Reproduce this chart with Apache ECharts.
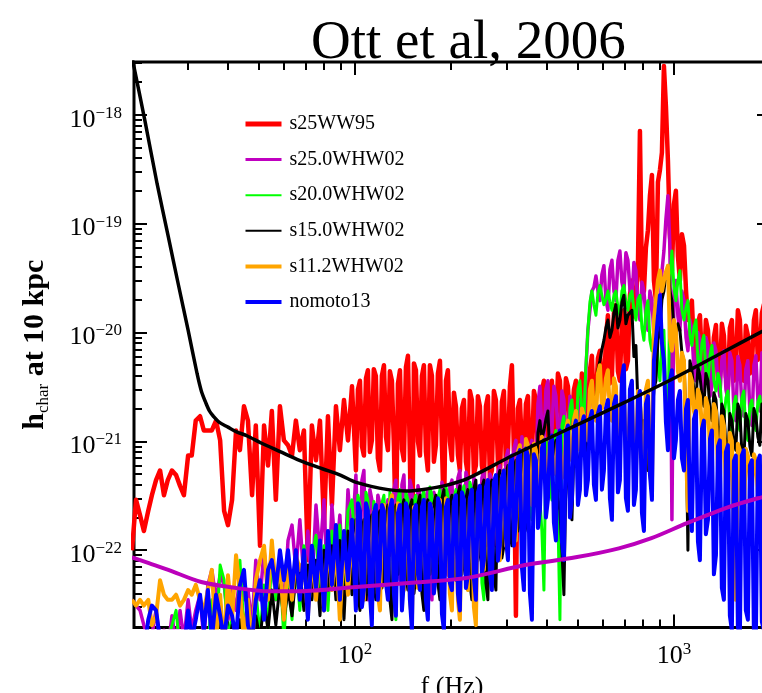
<!DOCTYPE html>
<html>
<head>
<meta charset="utf-8">
<script src="https://cdn.jsdelivr.net/npm/echarts@6/dist/echarts.min.js"></script>
<style>
  html, body { margin: 0; padding: 0; background: #fff; }
  #chart { width: 762px; height: 693px; }
</style>
</head>
<body>
<div id="chart"></div>
<script>
// Main frequency grid (Hz) shared by the model spectra
const freq = [
  20.0, 20.6, 21.2, 21.8, 22.5, 23.1, 23.8, 24.5, 25.2, 25.9,
  26.7, 27.5, 28.3, 29.1, 30.0, 30.8, 31.7, 32.7, 33.6, 34.6,
  35.6, 36.7, 37.8, 38.9, 40.0, 41.2, 42.4, 43.6, 44.9, 46.2,
  47.6, 48.9, 50.4, 51.9, 53.4, 54.9, 56.5, 58.2, 59.9, 61.7,
  63.5, 65.3, 67.2, 69.2, 71.2, 73.3, 75.5, 77.7, 80.0, 82.3,
  84.7, 87.2, 89.7, 92.4, 95.1, 97.9, 100.7, 103.7, 106.7, 109.8,
  113.0, 116.3, 119.8, 123.3, 126.9, 130.6, 134.4, 138.4, 142.4, 146.6,
  150.9, 155.3, 159.9, 164.5, 169.3, 174.3, 179.4, 184.7, 190.1, 195.6,
  201.4, 207.3, 213.3, 219.6, 226.0, 232.6, 239.4, 246.4, 253.7, 261.1,
  268.7, 276.6, 284.7, 293.1, 301.7, 310.5, 319.6, 328.9, 338.6, 348.5,
  358.7, 369.2, 380.0, 391.2, 402.6, 414.4, 426.6, 439.1, 451.9, 465.2,
  478.8, 492.8, 507.2, 522.1, 537.4, 553.1, 569.4, 586.0, 603.2, 620.9,
  639.1, 657.7, 677.0, 696.8, 717.3, 738.3, 759.9, 782.2, 805.1, 828.7,
  853.0, 877.9, 903.7, 930.1, 957.4, 985.4, 1014, 1044, 1075, 1106,
  1138, 1172, 1206, 1241, 1278, 1315, 1354, 1393, 1434, 1476,
  1519, 1563, 1609, 1656, 1705, 1755, 1806, 1859, 1913, 1969
];
// Extra samples above 100 Hz, where the spectra are dense
const freqMid = [
  102.2, 105.2, 108.3, 111.4, 114.6, 118.0, 121.5, 125.1, 128.7, 132.5,
  136.4, 140.4, 144.5, 148.7, 153.1, 157.6, 162.2, 166.9, 171.8, 176.8,
  182.0, 187.4, 192.9, 198.4, 204.3, 210.3, 216.4, 222.8, 229.3, 236.0,
  242.9, 250.0, 257.4, 264.9, 272.6, 280.6, 288.8, 297.4, 306.1, 315.0,
  324.2, 333.7, 343.5, 353.6, 363.9, 374.6, 385.5, 396.9, 408.5, 420.4,
  432.8, 445.5, 458.5, 472.0, 485.8, 500.0, 514.6, 529.7, 545.2, 561.1,
  577.7, 594.5, 612.0, 629.9, 648.4, 667.3, 686.8, 706.9, 727.7, 749.0,
  770.9, 793.6, 816.8, 840.7, 865.4, 890.7, 916.8, 943.6, 971.3, 999.7,
  1029, 1059, 1091, 1122, 1155, 1189, 1224, 1259, 1297, 1334,
  1374, 1413, 1455, 1497, 1541, 1586, 1632, 1680, 1730, 1781,
  1832, 1886, 1941
];

// Characteristic strain h_char at 10 kpc, per model
const s25WW95 = [
  1.0e-22, 2.9e-22, 2.1e-22, 1.5e-22, 2.3e-22, 3.2e-22, 4.4e-22, 5.4e-22, 3.2e-22, 4.4e-22,
  5.4e-22, 4.9e-22, 3.9e-22, 3.2e-22, 7.4e-22, 7.4e-22, 1.55e-21, 1.7e-21, 1.26e-21, 1.26e-21,
  1.26e-21, 1.55e-21, 1.02e-21, 2.3e-22, 1.7e-22, 2.9e-22, 1.26e-21, 8.3e-22, 2.1e-21, 1.55e-21,
  3.2e-22, 1.4e-21, 1.1e-22, 1.4e-21, 6.0e-22, 1.9e-21, 2.9e-22, 2.1e-21, 1.02e-21, 9.2e-22,
  7.4e-22, 1.55e-21, 8.3e-22, 1.26e-21, 8.1e-23, 1.4e-21, 6.7e-22, 1.55e-21, 1.7e-22, 1.7e-21,
  2.6e-22, 2.1e-21, 8.3e-22, 2.4e-21, 1.02e-21, 3.2e-21, 5.4e-22, 3.6e-21, 7.4e-22, 4.5e-21,
  1.02e-21, 4.0e-21, 5.4e-22, 5.0e-21, 8.3e-22, 3.6e-21, 1.23e-22, 4.5e-21, 6.7e-22, 6.1e-21,
  4.8e-23, 4.5e-21, 7.4e-22, 5.0e-21, 5.4e-22, 4.0e-21, 9.2e-22, 5.5e-21, 1.9e-22, 4.5e-21,
  6.7e-22, 2.1e-21, 5.4e-22, 2.4e-21, 4.9e-22, 2.4e-21, 6.0e-22, 2.1e-21, 4.4e-22, 2.6e-21,
  5.4e-22, 2.4e-21, 4.4e-22, 2.9e-21, 8.3e-22, 5.0e-21, 2.5e-23, 2.4e-21, 6.7e-22, 2.6e-21,
  7.4e-22, 2.4e-21, 1.02e-21, 3.6e-21, 1.13e-21, 3.6e-21, 1.26e-21, 3.6e-21, 1.4e-21, 3.2e-21,
  1.55e-21, 3.6e-21, 1.7e-21, 3.6e-21, 1.9e-21, 6.1e-21, 2.4e-21, 6.8e-21, 2.6e-21, 1.44e-20,
  4.0e-21, 1.8e-20, 3.6e-21, 1.6e-20, 5.5e-21, 3.0e-20, 1.96e-20, 7.1e-19, 2.4e-20, 8.7e-20,
  2.8e-19, 1.96e-20, 3.1e-19, 2.8e-18, 3.8e-19, 3.7e-20, 2.0e-19, 3.0e-20, 6.3e-20, 1.3e-20,
  1.96e-20, 5.5e-21, 1.44e-20, 4.5e-21, 1.05e-20, 3.6e-21, 1.17e-20, 4.0e-21, 9.4e-21, 3.2e-21,
  1.3e-20, 4.5e-21, 1.3e-20, 3.6e-21, 9.4e-21, 5.0e-21, 1.6e-20, 6.8e-21, 1.8e-20, 8.5e-21
];
const s25WW95Mid = [
  3.0e-21, 9.0e-22, 3.8e-21, 8.0e-22, 4.6e-21, 7.0e-22, 4.0e-21, 1.1e-21, 4.4e-21, 9.0e-22,
  3.4e-21, 8.5e-22, 4.8e-21, 7.0e-22, 5.2e-21, 1.0e-21, 4.0e-21, 8.0e-22, 5.0e-21, 6.5e-22,
  4.2e-21, 9.0e-22, 3.6e-21, 1.0e-21, 2.8e-21, 7.5e-22, 2.0e-21, 6.5e-22, 2.9e-21, 5.0e-22,
  2.6e-21, 6.0e-22, 2.1e-21, 4.6e-22, 2.9e-21, 6.5e-22, 2.3e-21, 6.0e-22, 3.2e-21, 8.0e-22,
  2.0e-21, 9.0e-22, 2.2e-21, 6.0e-22, 2.9e-21, 8.0e-22, 2.9e-21, 1.4e-21, 3.0e-21, 1.0e-21,
  4.2e-21, 1.15e-21, 3.8e-21, 1.3e-21, 3.0e-21, 1.5e-21, 4.2e-21, 1.6e-21, 4.5e-21, 2.0e-21,
  5.8e-21, 3.0e-21, 9.0e-21, 3.4e-21, 1.5e-20, 4.4e-21, 1.3e-20, 4.6e-21, 2.2e-20, 1.4e-20,
  4.0e-20, 3.0e-20, 6.0e-20, 1.8e-19, 3.0e-20, 2.4e-19, 4.5e-19, 1.2e-18, 8.0e-20, 1.5e-19,
  5.0e-20, 8.0e-20, 2.4e-20, 1.6e-20, 7.0e-21, 1.2e-20, 5.5e-21, 1.3e-20, 4.4e-21, 9.0e-21,
  3.3e-21, 1.2e-20, 3.9e-21, 1.1e-20, 3.6e-21, 1.6e-20, 4.8e-21, 1.15e-20, 4.2e-21, 1.3e-20,
  5.6e-21, 1.5e-20, 7.0e-21
];

const s250WHW02 = [
  3.5e-23, 3.1e-23, 2.8e-23, 2.05e-23, 1.5e-23, 1.65e-23, 2.8e-23, 1.5e-23, 1.84e-23, 1.2e-23,
  2.5e-23, 1.35e-23, 2.8e-23, 1.5e-23, 3.5e-23, 1.84e-23, 2.8e-23, 3.9e-23, 1.5e-23, 4.8e-23,
  6.6e-23, 3.5e-23, 5.9e-23, 4.8e-23, 2.3e-23, 4.3e-23, 2.8e-23, 5.9e-23, 3.5e-23, 4.3e-23,
  2.05e-23, 8.1e-23, 3.5e-23, 1.0e-22, 4.3e-23, 9.0e-23, 3.5e-23, 8.1e-23, 2.8e-23, 1.23e-22,
  1.7e-22, 6.6e-23, 1.9e-22, 5.3e-23, 1.5e-22, 4.3e-23, 2.6e-22, 9.0e-23, 2.9e-22, 3.5e-23,
  2.6e-22, 8.1e-23, 2.1e-22, 3.9e-23, 3.6e-22, 1.23e-22, 4.9e-22, 8.1e-23, 5.4e-22, 3.5e-23,
  2.9e-22, 1.1e-22, 2.6e-22, 4.8e-23, 2.9e-22, 1.23e-22, 4.4e-22, 5.3e-23, 4.9e-22, 1.5e-22,
  3.6e-22, 6.6e-23, 3.2e-22, 1.0e-22, 3.6e-22, 3.5e-23, 2.9e-22, 1.1e-22, 3.6e-22, 5.9e-23,
  4.4e-22, 1.5e-22, 5.4e-22, 8.1e-23, 4.4e-22, 1.9e-22, 3.9e-22, 9.0e-23, 5.4e-22, 1.5e-22,
  4.4e-22, 1.1e-22, 6.0e-22, 1.9e-22, 8.3e-22, 2.9e-22, 1.02e-21, 1.9e-22, 9.2e-22, 3.6e-22,
  1.02e-21, 3.9e-22, 3.2e-21, 1.02e-21, 3.6e-21, 1.26e-21, 2.6e-21, 1.02e-21, 2.4e-21, 8.3e-22,
  2.1e-21, 9.2e-22, 2.4e-21, 1.26e-21, 1.05e-20, 2.4e-20, 3.3e-20, 1.96e-20, 4.1e-20, 1.6e-20,
  4.6e-20, 1.96e-20, 5.6e-20, 2.4e-20, 4.6e-20, 1.96e-20, 3.7e-20, 1.3e-20, 2.4e-20, 1.05e-20,
  1.96e-20, 7.6e-21, 1.6e-20, 5.6e-20, 1.8e-19, 1.9e-22, 3.0e-20, 1.05e-20, 1.96e-20, 6.8e-21,
  1.05e-20, 3.6e-21, 8.5e-21, 2.9e-21, 7.6e-21, 3.2e-21, 6.8e-21, 2.6e-21, 6.8e-21, 2.4e-21,
  5.5e-21, 1.55e-21, 5.0e-21, 1.7e-21, 5.5e-21, 1.4e-21, 6.1e-21, 1.9e-21, 5.5e-21, 2.1e-21
];
const s250WHW02Mid = [
  1.1e-22, 4.4e-22, 6.0e-23, 3.6e-22, 8.0e-23, 3.2e-22, 7.0e-23, 2.4e-22, 9.0e-23, 3.6e-22,
  9.0e-23, 4.0e-22, 1.1e-22, 4.4e-22, 5.0e-23, 3.9e-22, 1.3e-22, 3.0e-22, 6.0e-23, 3.4e-22,
  8.0e-23, 4.2e-22, 9.0e-23, 3.8e-22, 1.0e-22, 4.6e-22, 1.2e-22, 5.2e-22, 1.4e-22, 4.6e-22,
  1.3e-22, 4.6e-22, 1.1e-22, 5.0e-22, 1.5e-22, 5.2e-22, 2.4e-22, 7.0e-22, 2.2e-22, 8.6e-22,
  2.6e-22, 1.1e-21, 2.8e-22, 8.8e-22, 5.0e-22, 2.2e-21, 1.3e-21, 3.0e-21, 1.05e-21, 3.2e-21,
  1.3e-21, 2.9e-21, 1.05e-21, 2.6e-21, 1.2e-21, 2.0e-21, 1.6e-21, 4.5e-21, 1.6e-20, 2.6e-20,
  2.4e-20, 3.4e-20, 2.0e-20, 3.8e-20, 2.4e-20, 4.6e-20, 2.9e-20, 5.4e-20, 2.5e-20, 4.4e-20,
  1.7e-20, 2.9e-20, 1.4e-20, 2.4e-20, 9.5e-21, 1.3e-20, 3.6e-20, 1.1e-19, 6.0e-20, 2.4e-20,
  1.4e-20, 2.4e-20, 9.0e-21, 1.3e-20, 4.6e-21, 1.0e-20, 3.8e-21, 9.0e-21, 2.6e-21, 8.0e-21,
  3.4e-21, 5.6e-21, 3.0e-21, 6.5e-21, 2.0e-21, 6.0e-21, 2.2e-21, 4.6e-21, 1.8e-21, 5.0e-21,
  2.4e-21, 6.5e-21, 2.6e-21
];

const s200WHW02 = [
  1.5e-23, 1.2e-23, 9.8e-24, 1.5e-23, 1.2e-23, 9.8e-24, 1.35e-23, 1.2e-23, 9.8e-24, 1.5e-23,
  2.05e-23, 2.8e-23, 1.2e-23, 9.8e-24, 1.5e-23, 1.2e-23, 1.65e-23, 1.1e-23, 1.84e-23, 1.35e-23,
  3.5e-23, 1.5e-23, 7.3e-23, 5.3e-23, 1.5e-23, 2.5e-23, 1.2e-23, 8.1e-23, 1.84e-23, 3.5e-23,
  1.5e-23, 4.3e-23, 1.65e-23, 4.8e-23, 1.84e-23, 9.0e-23, 3.5e-23, 7.3e-23, 1.5e-23, 6.6e-23,
  2.3e-23, 8.1e-23, 2.8e-23, 1.1e-22, 3.5e-23, 9.0e-23, 1.37e-22, 4.3e-23, 1.1e-22, 2.8e-23,
  1.5e-22, 5.3e-23, 1.7e-22, 3.5e-23, 2.3e-22, 2.9e-22, 8.1e-23, 2.6e-22, 4.3e-23, 2.9e-22,
  1.1e-22, 2.3e-22, 3.5e-23, 3.2e-22, 8.1e-23, 2.9e-22, 2.3e-23, 3.6e-22, 1.1e-22, 2.9e-22,
  5.3e-23, 3.2e-22, 1.0e-22, 3.6e-22, 3.5e-23, 3.2e-22, 9.0e-23, 3.6e-22, 4.8e-23, 3.2e-22,
  1.23e-22, 3.6e-22, 1.0e-22, 3.9e-22, 4.3e-23, 3.6e-22, 1.1e-22, 3.6e-22, 3.5e-23, 3.2e-22,
  8.1e-23, 3.9e-22, 1.5e-22, 4.4e-22, 1.1e-22, 5.4e-22, 1.9e-22, 6.0e-22, 8.1e-23, 6.7e-22,
  1.9e-22, 8.3e-22, 2.9e-22, 4.3e-23, 1.02e-21, 2.9e-22, 1.26e-21, 2.3e-23, 1.7e-21, 5.4e-22,
  2.4e-21, 8.3e-22, 3.6e-21, 1.55e-21, 1.05e-20, 2.4e-20, 1.44e-20, 2.7e-20, 1.8e-20, 2.4e-20,
  1.6e-20, 2.4e-20, 1.44e-20, 2.7e-20, 1.6e-20, 2.4e-20, 1.3e-20, 2.2e-20, 8.5e-21, 1.96e-20,
  6.8e-21, 1.3e-20, 3.6e-21, 1.05e-20, 1.02e-21, 5.6e-20, 1.96e-20, 3.7e-20, 1.3e-20, 1.96e-20,
  7.6e-21, 1.3e-20, 4.5e-21, 9.4e-21, 3.6e-21, 7.6e-21, 2.9e-21, 3.6e-21, 1.55e-21, 2.9e-21,
  1.13e-21, 2.6e-21, 1.26e-21, 2.9e-21, 1.02e-21, 2.4e-21, 1.26e-21, 2.6e-21, 1.4e-21, 2.4e-21
];
const s200WHW02Mid = [
  3.2e-22, 7.0e-23, 3.4e-22, 9.0e-23, 2.8e-22, 5.0e-23, 2.7e-22, 1.1e-22, 3.4e-22, 4.0e-23,
  3.0e-22, 8.0e-23, 3.4e-22, 7.0e-23, 2.8e-22, 1.3e-22, 3.0e-22, 5.0e-23, 3.8e-22, 7.0e-23,
  3.0e-22, 6.5e-23, 3.8e-22, 9.5e-23, 3.0e-22, 1.3e-22, 3.4e-22, 6.0e-23, 4.2e-22, 9.0e-23,
  3.0e-22, 5.0e-23, 3.8e-22, 1.1e-22, 3.4e-22, 1.2e-22, 3.8e-22, 1.4e-22, 4.6e-22, 2.4e-22,
  5.0e-22, 1.1e-22, 5.6e-22, 2.4e-22, 7.0e-22, 3.6e-22, 1.5e-22, 8.6e-22, 3.6e-22, 1.05e-21,
  2.0e-22, 1.4e-21, 6.8e-22, 2.0e-21, 1.0e-21, 3.0e-21, 1.9e-21, 5.0e-21, 1.9e-20, 1.8e-20,
  2.3e-20, 2.2e-20, 2.0e-20, 1.9e-20, 2.2e-20, 1.7e-20, 2.4e-20, 1.9e-20, 2.2e-20, 1.6e-20,
  2.0e-20, 1.1e-20, 1.6e-20, 8.5e-21, 1.1e-20, 5.0e-21, 8.5e-21, 2.5e-21, 3.2e-20, 2.6e-20,
  3.0e-20, 1.6e-20, 1.7e-20, 9.5e-21, 1.1e-20, 5.5e-21, 8.0e-21, 4.4e-21, 6.2e-21, 3.6e-21,
  4.2e-21, 2.0e-21, 2.5e-21, 1.4e-21, 2.2e-21, 1.5e-21, 2.5e-21, 1.2e-21, 2.1e-21, 1.5e-21,
  2.3e-21, 1.7e-21, 2.1e-21
];

const s150WHW02 = [
  1.2e-23, 9.8e-24, 1.5e-23, 9.8e-24, 1.2e-23, 1.5e-23, 9.8e-24, 1.2e-23, 1.35e-23, 9.8e-24,
  1.2e-23, 1.5e-23, 9.8e-24, 1.2e-23, 1.5e-23, 1.1e-23, 1.35e-23, 9.8e-24, 1.5e-23, 1.2e-23,
  1.84e-23, 1.35e-23, 2.5e-23, 1.5e-23, 1.2e-23, 2.05e-23, 1.1e-23, 2.3e-23, 1.5e-23, 2.8e-23,
  1.35e-23, 2.5e-23, 1.5e-23, 3.5e-23, 1.84e-23, 4.3e-23, 2.05e-23, 4.8e-23, 2.3e-23, 4.3e-23,
  2.5e-23, 5.9e-23, 6.6e-23, 2.8e-23, 7.3e-23, 3.5e-23, 8.1e-23, 2.5e-23, 1.0e-22, 4.3e-23,
  1.1e-22, 3.5e-23, 1.23e-22, 2.3e-23, 1.5e-22, 3.9e-23, 1.9e-22, 2.8e-23, 1.9e-22, 5.3e-23,
  2.1e-22, 3.5e-23, 2.3e-22, 6.6e-23, 2.6e-22, 2.3e-23, 2.6e-22, 8.1e-23, 2.9e-22, 4.3e-23,
  2.9e-22, 5.9e-23, 3.2e-22, 2.8e-23, 2.9e-22, 8.1e-23, 3.2e-22, 3.5e-23, 3.6e-22, 1.1e-22,
  3.2e-22, 5.3e-23, 3.9e-22, 8.1e-23, 3.6e-22, 3.5e-23, 4.4e-22, 1.0e-22, 4.4e-22, 3.5e-23,
  4.4e-22, 4.3e-23, 5.4e-22, 1.1e-22, 6.0e-22, 1.1e-22, 6.7e-22, 1.9e-22, 8.3e-22, 1.5e-22,
  9.2e-22, 2.9e-22, 1.55e-21, 1.26e-21, 1.9e-21, 5.4e-22, 1.02e-21, 2.3e-22, 3.9e-23, 5.4e-22,
  1.9e-22, 1.02e-21, 6.7e-22, 1.55e-21, 9.2e-22, 2.9e-21, 2.4e-21, 5.5e-21, 8.5e-21, 1.3e-20,
  1.05e-20, 1.8e-20, 1.3e-20, 2.2e-20, 1.44e-20, 1.6e-20, 7.6e-21, 2.6e-21, 1.55e-21, 5.4e-22,
  1.55e-21, 3.6e-21, 1.05e-20, 2.4e-20, 4.1e-20, 1.96e-20, 9.4e-21, 1.05e-20, 5.5e-21, 1.0e-22,
  4.5e-21, 2.4e-21, 4.0e-21, 2.1e-21, 3.6e-21, 1.55e-21, 2.4e-21, 1.02e-21, 1.9e-21, 7.4e-22,
  1.55e-21, 8.3e-22, 1.9e-21, 6.7e-22, 1.55e-21, 7.4e-22, 1.7e-21, 9.2e-22, 1.9e-21, 1.02e-21
];
const s150WHW02Mid = [
  4.0e-23, 1.5e-22, 3.5e-23, 1.8e-22, 5.0e-23, 2.0e-22, 4.5e-23, 2.2e-22, 3.5e-23, 2.2e-22,
  6.0e-23, 2.4e-22, 6.0e-23, 2.5e-22, 4.0e-23, 2.7e-22, 4.0e-23, 2.5e-22, 6.0e-23, 2.7e-22,
  5.0e-23, 3.0e-22, 8.0e-23, 2.7e-22, 7.0e-23, 3.3e-22, 6.0e-23, 3.0e-22, 5.0e-23, 3.7e-22,
  8.0e-23, 3.8e-22, 5.0e-23, 3.8e-22, 6.0e-23, 4.6e-22, 8.5e-23, 5.0e-22, 1.4e-22, 5.6e-22,
  1.5e-22, 7.0e-22, 1.9e-22, 7.6e-22, 3.6e-22, 1.2e-21, 1.05e-21, 1.6e-21, 7.0e-22, 8.5e-22,
  3.0e-22, 1.0e-22, 4.5e-22, 2.5e-22, 8.5e-22, 5.6e-22, 1.3e-21, 8.0e-22, 2.4e-21, 2.0e-21,
  4.5e-21, 7.0e-21, 1.1e-20, 9.0e-21, 1.5e-20, 1.1e-20, 1.9e-20, 1.2e-20, 1.4e-20, 6.0e-21,
  2.2e-21, 1.3e-21, 7.0e-22, 1.3e-21, 3.0e-21, 8.5e-21, 2.0e-20, 3.4e-20, 2.4e-20, 1.1e-20,
  1.2e-20, 6.5e-21, 1.5e-21, 5.5e-21, 2.9e-21, 4.8e-21, 2.6e-21, 4.2e-21, 1.9e-21, 2.8e-21,
  1.2e-21, 2.2e-21, 9.0e-22, 1.8e-21, 1.0e-21, 2.2e-21, 8.0e-22, 1.8e-21, 9.0e-22, 2.0e-21,
  1.1e-21, 2.2e-21, 1.2e-21
];

const s112WHW02 = [
  3.5e-23, 3.1e-23, 3.5e-23, 3.1e-23, 3.5e-23, 2.05e-23, 2.5e-23, 5.3e-23, 3.9e-23, 3.5e-23,
  3.5e-23, 3.9e-23, 3.1e-23, 3.5e-23, 4.3e-23, 3.9e-23, 4.8e-23, 3.5e-23, 2.8e-23, 4.3e-23,
  6.6e-23, 1.5e-23, 3.9e-23, 1.2e-23, 5.9e-23, 2.3e-23, 9.0e-23, 4.3e-23, 1.5e-23, 3.5e-23,
  1.2e-23, 5.3e-23, 8.1e-23, 1.1e-22, 3.5e-23, 1.23e-22, 4.3e-23, 7.3e-23, 2.3e-23, 8.1e-23,
  3.5e-23, 9.0e-23, 6.6e-23, 8.1e-23, 2.5e-23, 9.0e-23, 3.5e-23, 1.1e-22, 2.8e-23, 1.23e-22,
  4.3e-23, 1.1e-22, 2.3e-23, 1.23e-22, 3.9e-23, 1.5e-22, 1.0e-22, 1.9e-22, 3.5e-23, 2.1e-22,
  8.1e-23, 1.9e-22, 2.8e-23, 2.6e-22, 1.23e-22, 3.2e-22, 8.1e-23, 2.3e-22, 4.3e-23, 2.3e-22,
  2.3e-23, 2.1e-22, 5.9e-23, 2.6e-22, 3.5e-23, 2.3e-22, 8.1e-23, 2.9e-22, 5.3e-23, 2.6e-22,
  2.8e-23, 2.3e-22, 2.3e-23, 2.9e-22, 4.3e-23, 2.6e-22, 2.05e-23, 3.2e-22, 6.6e-23, 3.6e-22,
  1.1e-22, 4.4e-22, 8.1e-23, 5.4e-22, 1.5e-22, 6.0e-22, 1.23e-22, 9.2e-22, 2.9e-22, 9.2e-22,
  2.6e-22, 8.3e-22, 3.6e-22, 9.2e-22, 5.4e-22, 9.2e-22, 6.0e-22, 8.3e-22, 5.4e-22, 1.55e-21,
  6.7e-22, 1.9e-21, 8.3e-22, 1.7e-21, 1.02e-21, 3.6e-21, 1.55e-21, 5.0e-21, 2.4e-21, 4.5e-21,
  1.55e-21, 3.2e-21, 1.26e-21, 2.9e-21, 6.7e-22, 2.6e-21, 5.4e-22, 2.4e-21, 4.4e-22, 3.6e-21,
  3.9e-22, 1.96e-20, 3.7e-20, 3.0e-20, 4.1e-20, 6.8e-21, 1.05e-20, 3.6e-21, 5.5e-21, 2.3e-22,
  3.6e-21, 1.55e-21, 2.6e-21, 1.02e-21, 2.1e-21, 6.7e-22, 1.9e-21, 4.4e-22, 1.4e-21, 2.9e-22,
  1.02e-21, 3.5e-23, 8.3e-22, 1.9e-22, 7.4e-22, 3.6e-22, 6.7e-22, 2.9e-22, 5.4e-22, 3.2e-22
];
const s112WHW02Mid = [
  2.4e-22, 5.0e-23, 2.5e-22, 6.0e-23, 2.3e-22, 4.0e-23, 2.2e-22, 9.0e-23, 2.7e-22, 6.0e-23,
  2.7e-22, 6.0e-23, 2.0e-22, 3.5e-23, 2.5e-22, 4.5e-23, 2.2e-22, 5.0e-23, 2.7e-22, 6.0e-23,
  2.5e-22, 7.0e-23, 3.0e-22, 4.0e-23, 2.6e-22, 3.5e-23, 2.5e-22, 6.0e-23, 3.0e-22, 3.0e-23,
  2.8e-22, 9.0e-23, 3.0e-22, 8.0e-23, 3.8e-22, 1.1e-22, 4.6e-22, 1.1e-22, 7.0e-22, 1.8e-22,
  8.0e-22, 2.2e-22, 1.05e-21, 3.4e-22, 9.5e-22, 4.4e-22, 1.1e-21, 4.6e-22, 1.05e-21, 5.0e-22,
  1.0e-21, 4.6e-22, 1.3e-21, 7.6e-22, 1.6e-21, 9.5e-22, 2.0e-21, 1.2e-21, 3.0e-21, 1.9e-21,
  4.2e-21, 2.0e-21, 3.8e-21, 1.8e-21, 3.8e-21, 1.0e-21, 3.4e-21, 8.0e-22, 2.2e-21, 6.5e-22,
  2.9e-21, 5.5e-22, 3.0e-21, 5.0e-22, 1.3e-20, 3.0e-20, 2.4e-20, 3.6e-20, 9.0e-21, 1.3e-20,
  4.4e-21, 6.5e-21, 8.0e-22, 4.2e-21, 1.9e-21, 3.0e-21, 1.3e-21, 2.5e-21, 8.5e-22, 2.2e-21,
  5.5e-22, 1.7e-21, 3.6e-22, 1.2e-21, 1.2e-22, 9.5e-22, 2.6e-22, 8.5e-22, 4.4e-22, 7.6e-22,
  3.4e-22, 6.0e-22, 3.8e-22
];

const nomoto13 = [
  1.2e-23, 9.8e-24, 1.5e-23, 1.1e-23, 2.3e-23, 3.1e-23, 2.8e-23, 1.5e-23, 9.8e-24, 1.2e-23,
  1.5e-23, 9.8e-24, 1.35e-23, 1.2e-23, 2.8e-23, 1.5e-23, 2.3e-23, 3.9e-23, 1.84e-23, 4.3e-23,
  1.5e-23, 3.9e-23, 2.5e-23, 1.5e-23, 3.1e-23, 2.5e-23, 1.5e-23, 4.8e-23, 6.6e-23, 2.05e-23,
  1.5e-23, 3.5e-23, 5.3e-23, 2.3e-23, 6.6e-23, 8.1e-23, 4.3e-23, 1.0e-22, 5.3e-23, 1.0e-22,
  4.3e-23, 1.0e-22, 3.5e-23, 1.0e-22, 2.3e-23, 1.1e-22, 4.3e-23, 1.23e-22, 2.8e-23, 1.5e-22,
  4.8e-23, 1.7e-22, 3.5e-23, 1.5e-22, 5.3e-23, 1.9e-22, 2.8e-23, 2.3e-22, 4.3e-23, 2.3e-22,
  2.05e-23, 2.6e-22, 6.6e-23, 2.3e-22, 3.5e-23, 2.9e-22, 2.5e-23, 2.6e-22, 5.3e-23, 2.3e-22,
  1.84e-23, 2.6e-22, 4.3e-23, 2.9e-22, 2.3e-23, 2.3e-22, 5.9e-23, 2.6e-22, 1.84e-23, 2.9e-22,
  4.3e-23, 3.2e-22, 2.8e-23, 2.9e-22, 5.9e-23, 3.6e-22, 3.5e-23, 3.9e-22, 8.1e-23, 4.4e-22,
  4.3e-23, 4.9e-22, 1.1e-22, 5.4e-22, 8.1e-23, 7.4e-22, 1.9e-22, 8.3e-22, 4.3e-23, 7.4e-22,
  2.3e-23, 6.7e-22, 2.3e-22, 1.02e-21, 2.9e-22, 1.13e-21, 1.23e-22, 1.26e-21, 8.1e-23, 1.4e-21,
  2.9e-22, 1.55e-21, 3.6e-22, 1.7e-21, 4.4e-22, 1.9e-21, 2.9e-22, 2.1e-21, 5.4e-22, 2.4e-21,
  1.9e-22, 2.6e-21, 4.4e-22, 5.0e-21, 2.3e-22, 3.6e-21, 3.6e-22, 2.9e-21, 1.5e-22, 2.6e-21,
  2.9e-22, 8.5e-21, 2.2e-20, 5.5e-21, 8.3e-22, 4.5e-21, 1.02e-21, 2.9e-21, 5.4e-22, 2.4e-21,
  1.5e-22, 1.9e-21, 8.1e-23, 1.55e-21, 1.9e-22, 1.26e-21, 9.0e-23, 1.02e-21, 3.5e-23, 9.2e-22,
  1.84e-23, 7.4e-22, 1.5e-23, 8.3e-22, 2.3e-23, 6.7e-22, 1.5e-23, 7.4e-22, 1.84e-23, 6.0e-22
];
const nomoto13Mid = [
  2.7e-22, 3.0e-23, 2.7e-22, 4.0e-23, 2.2e-22, 3.5e-23, 2.6e-22, 5.0e-23, 2.4e-22, 4.0e-23,
  2.2e-22, 2.8e-23, 2.7e-22, 3.5e-23, 2.3e-22, 6.0e-23, 2.5e-22, 3.5e-23, 2.7e-22, 4.0e-23,
  3.0e-22, 2.6e-23, 2.5e-22, 5.0e-23, 2.8e-22, 4.0e-23, 3.4e-22, 4.5e-23, 3.0e-22, 5.5e-23,
  3.4e-22, 6.0e-23, 3.8e-22, 6.0e-23, 4.2e-22, 8.0e-23, 4.6e-22, 1.3e-22, 6.0e-22, 1.1e-22,
  7.0e-22, 7.0e-23, 8.6e-22, 4.0e-23, 7.6e-22, 1.6e-22, 8.6e-22, 2.0e-22, 9.6e-22, 1.8e-22,
  1.05e-21, 1.2e-22, 1.2e-21, 2.0e-22, 1.3e-21, 2.6e-22, 1.45e-21, 3.2e-22, 1.6e-21, 4.0e-22,
  1.8e-21, 3.6e-22, 2.0e-21, 3.0e-22, 2.2e-21, 3.4e-22, 3.8e-21, 3.0e-22, 3.0e-21, 2.6e-22,
  2.4e-21, 2.2e-22, 2.2e-21, 5.0e-22, 5.5e-21, 1.4e-20, 8.0e-21, 1.5e-21, 3.6e-21, 7.0e-22,
  2.4e-21, 7.0e-22, 2.0e-21, 2.4e-22, 1.6e-21, 1.2e-22, 1.3e-21, 1.4e-22, 1.05e-21, 6.0e-23,
  9.0e-22, 4.5e-23, 8.0e-22, 2.5e-23, 6.6e-22, 2.0e-23, 7.4e-22, 2.8e-23, 6.0e-22, 1.6e-23,
  6.6e-22, 2.2e-23, 5.5e-22
];

// Detector sensitivity curves
const ligoFreq = [20, 22, 24, 26, 28, 30, 32, 33, 34, 35, 36, 37.5, 40, 42.4, 46, 51, 58, 67, 79, 90,
  101, 127, 145, 162, 190, 227, 303, 435, 672, 1000, 1400, 2000];
const ligoNoise = [3.4e-18, 8.6e-19, 2.3e-19, 7.6e-20, 2.7e-20, 1.05e-20, 4.2e-21, 2.9e-21, 2.3e-21, 1.9e-21,
  1.7e-21, 1.5e-21, 1.35e-21, 1.23e-21, 1.12e-21, 9.6e-22, 8.1e-22, 6.7e-22, 5.6e-22, 4.9e-22,
  4.2e-22, 3.6e-22, 3.5e-22, 3.6e-22, 3.9e-22, 4.6e-22, 7.1e-22, 1.18e-21, 2.15e-21, 3.8e-21, 6.4e-21, 1.12e-20];
const advFreq = [20, 22.6, 26, 33, 42.4, 53.5, 67, 101, 162, 227, 341, 492, 672, 850, 1098, 1490, 1835, 2000];
const advNoise = [8.6e-23, 7.6e-23, 6.6e-23, 5.1e-23, 4.5e-23, 4.2e-23, 4.2e-23, 4.6e-23, 5.1e-23, 5.6e-23,
  7.3e-23, 8.6e-23, 1.04e-22, 1.29e-22, 1.77e-22, 2.5e-22, 3.0e-22, 3.2e-22];

// Axis ticks
const xMajorTicks = [100, 1000];
const xMinorTicks = [30, 40, 50, 60, 70, 80, 90, 200, 300, 400, 500, 600, 700, 800, 900, 2000];
const yMajorTicks = [1e-22, 1e-21, 1e-20, 1e-19, 1e-18];
const yMinorTicks = [
  2e-23, 3e-23, 4e-23, 5e-23, 6e-23, 7e-23, 8e-23, 9e-23,
  2e-22, 3e-22, 4e-22, 5e-22, 6e-22, 7e-22, 8e-22, 9e-22,
  2e-21, 3e-21, 4e-21, 5e-21, 6e-21, 7e-21, 8e-21, 9e-21,
  2e-20, 3e-20, 4e-20, 5e-20, 6e-20, 7e-20, 8e-20, 9e-20,
  2e-19, 3e-19, 4e-19, 5e-19, 6e-19, 7e-19, 8e-19, 9e-19,
  2e-18, 3e-18
];

const X_MIN = 20.3, X_MAX = 2000;
const Y_MIN = 1.95e-23, Y_MAX = 3.05e-18;
const SERIF = '"Liberation Serif", "DejaVu Serif", serif';

function pairs(xs, ys) { return xs.map((x, i) => [x, ys[i]]); }
// Combine the main grid with the extra samples, ordered by frequency
function spectrum(values, extra) {
  return pairs(freq, values).concat(pairs(freqMid, extra)).sort((a, b) => a[0] - b[0]);
}

function powerLabel(v) {
  const lg = Math.log10(v);
  const e = Math.round(lg);
  if (Math.abs(lg - e) > 1e-6) return '';
  const txt = e < 0 ? '\u2212' + (-e) : String(e);
  return '{b|10}{e|' + txt + '}';
}

const labelRich = {
  b: { fontFamily: SERIF, fontSize: 26, color: '#000', lineHeight: 30 },
  e: { fontFamily: SERIF, fontSize: 17, color: '#000', verticalAlign: 'top', lineHeight: 18 }
};

function xAxisDef(pos, ticks, len, withLabel) {
  return {
    type: 'log', gridIndex: 0, position: pos, min: X_MIN, max: X_MAX,
    axisLine: { show: false, onZero: false },
    splitLine: { show: false },
    axisTick: { show: true, inside: true, length: len, customValues: ticks,
      lineStyle: { color: '#000', width: 2 } },
    axisLabel: withLabel ? {
      show: true, customValues: ticks, margin: 14, formatter: powerLabel, rich: labelRich
    } : { show: false }
  };
}
function yAxisDef(pos, ticks, len, withLabel) {
  return {
    type: 'log', gridIndex: 0, position: pos, min: Y_MIN, max: Y_MAX,
    axisLine: { show: false, onZero: false },
    splitLine: { show: false },
    axisTick: { show: true, inside: true, length: len, customValues: ticks,
      lineStyle: { color: '#000', width: 2 } },
    axisLabel: withLabel ? {
      show: true, customValues: ticks, margin: 12, formatter: powerLabel, rich: labelRich,
      padding: [10, 0, 0, 0]
    } : { show: false }
  };
}

const xAxes = [
  xAxisDef('bottom', xMajorTicks, 13, true),
  xAxisDef('bottom', xMinorTicks, 8, false),
  xAxisDef('top', xMajorTicks, 13, false),
  xAxisDef('top', xMinorTicks, 8, false)
];
xAxes[0].name = 'f (Hz)';
xAxes[0].nameLocation = 'middle';
xAxes[0].nameGap = 41;
xAxes[0].nameTextStyle = { fontFamily: SERIF, fontSize: 26, color: '#000' };

const yAxes = [
  yAxisDef('left', yMajorTicks, 13, true),
  yAxisDef('left', yMinorTicks, 8, false),
  yAxisDef('right', yMajorTicks, 13, false),
  yAxisDef('right', yMinorTicks, 8, false)
];
yAxes[0].name = '{h|h}{s|char}{a| at 10 kpc}';
yAxes[0].nameLocation = 'middle';
yAxes[0].nameGap = 82;
yAxes[0].nameRotate = 90;
yAxes[0].nameTextStyle = {
  rich: {
    h: { fontFamily: SERIF, fontSize: 30, fontWeight: 'bold', color: '#000', lineHeight: 34 },
    s: { fontFamily: SERIF, fontSize: 17, color: '#000', verticalAlign: 'bottom', lineHeight: 18 },
    a: { fontFamily: SERIF, fontSize: 30, fontWeight: 'bold', color: '#000', lineHeight: 34 }
  }
};

function model(name, values, extra, color, width) {
  return {
    name: name, type: 'line', data: spectrum(values, extra),
    xAxisIndex: 0, yAxisIndex: 0,
    symbol: 'none', showSymbol: false, silent: true, clip: true, z: 2,
    lineStyle: { color: color, width: width, join: 'round' },
    itemStyle: { color: color }
  };
}

const chart = echarts.init(document.getElementById('chart'), null, { renderer: 'canvas' });
chart.setOption({
  animation: false,
  backgroundColor: '#fff',
  title: {
    text: 'Ott et al, 2006', left: 306, top: 11,
    textStyle: { fontFamily: SERIF, fontSize: 55, fontWeight: 'normal', color: '#000' }
  },
  grid: {
    left: 134, top: 62, width: 636, height: 565.5,
    containLabel: false, outerBoundsMode: 'none',
    show: true, borderColor: '#000', borderWidth: 3, backgroundColor: 'transparent'
  },
  legend: {
    orient: 'vertical', left: 243, top: 114, padding: 0,
    itemWidth: 36, itemHeight: 14, itemGap: 15.6,
    itemStyle: { opacity: 0 },
    textStyle: { fontFamily: SERIF, fontSize: 20, color: '#000', lineHeight: 20, padding: [0, 0, 0, 3] },
    data: [
      { name: 's25WW95', lineStyle: { width: 5 } },
      { name: 's25.0WHW02', lineStyle: { width: 3 } },
      { name: 's20.0WHW02', lineStyle: { width: 2 } },
      { name: 's15.0WHW02', lineStyle: { width: 2 } },
      { name: 's11.2WHW02', lineStyle: { width: 4 } },
      { name: 'nomoto13', lineStyle: { width: 4 } }
    ],
    selectedMode: false
  },
  xAxis: xAxes,
  yAxis: yAxes,
  series: [
    model('s25WW95', s25WW95, s25WW95Mid, '#ff0000', 4.5),
    model('s25.0WHW02', s250WHW02, s250WHW02Mid, '#c000c0', 3.5),
    model('s20.0WHW02', s200WHW02, s200WHW02Mid, '#00ff00', 3),
    model('s15.0WHW02', s150WHW02, s150WHW02Mid, '#000000', 3),
    model('s11.2WHW02', s112WHW02, s112WHW02Mid, '#ffa500', 4),
    model('nomoto13', nomoto13, nomoto13Mid, '#0000ff', 4),
    {
      name: 'Initial LIGO', type: 'line', data: pairs(ligoFreq, ligoNoise),
      symbol: 'none', smooth: 0.3, silent: true, clip: true, z: 3,
      lineStyle: { color: '#000', width: 3.5 }
    },
    {
      name: 'Advanced LIGO', type: 'line', data: pairs(advFreq, advNoise),
      symbol: 'none', smooth: 0.3, silent: true, clip: true, z: 3,
      lineStyle: { color: '#bb00bb', width: 4 }
    }
  ]
});
</script>
</body>
</html>
